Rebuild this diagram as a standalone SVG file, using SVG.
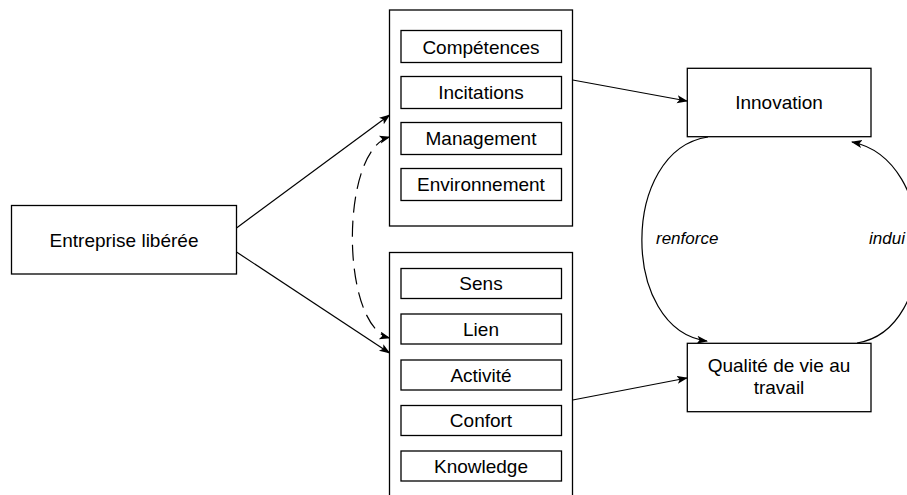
<svg xmlns="http://www.w3.org/2000/svg" width="907" height="495" viewBox="0 0 907 495">
<style>
.box{fill:#fff;stroke:#000;stroke-width:1.3}
.t{font-family:"Liberation Sans",Arial,sans-serif;font-size:19px;fill:#000;text-anchor:middle}
.lbl{font-family:"Liberation Sans",Arial,sans-serif;font-size:17px;font-style:italic;fill:#000}
.edge{fill:none;stroke:#000;stroke-width:1.2}
.dash{stroke-dasharray:16 8}
</style>
<defs>
<marker id="arr" markerUnits="userSpaceOnUse" markerWidth="12" markerHeight="10" refX="10" refY="4" orient="auto">
<path d="M0,0 L11,4 L0,8 L2.5,4 Z" fill="#000" stroke="none"/>
</marker>
<marker id="arrS" markerUnits="userSpaceOnUse" markerWidth="12" markerHeight="10" refX="10" refY="4" orient="auto-start-reverse">
<path d="M0,0 L11,4 L0,8 L2.5,4 Z" fill="#000" stroke="none"/>
</marker>
</defs>
<rect width="907" height="495" fill="#fff"/>
<g id="connectors">
<path class="edge" d="M236.5,228 L389.5,115" marker-end="url(#arr)"/>
<path class="edge" d="M236.5,252 L389.5,353" marker-end="url(#arr)"/>
<path class="edge dash" d="M389.5,137 C340,150 340,325 389.5,338" marker-start="url(#arrS)" marker-end="url(#arrS)"/>
<path class="edge" d="M572.7,80 L687,101" marker-end="url(#arr)"/>
<path class="edge" d="M572.7,400 L687,378" marker-end="url(#arr)"/>
<path class="edge" d="M708,137 C620,150 620,330 707,341" marker-end="url(#arr)"/>
<path class="edge" d="M857,343 C940,330 940,160 852,142" marker-end="url(#arr)"/>
<text class="lbl" x="656" y="244">renforce</text>
<text class="lbl" x="869" y="244">indui</text>
</g>
<g id="entreprise">
<rect class="box" x="11.5" y="205.5" width="225" height="68.5"/>
<text class="t" x="124" y="246.5">Entreprise libérée</text>
</g>
<g id="groupe-haut">
<rect class="box" x="389.5" y="10" width="183" height="216"/>
<g id="competences"><rect class="box" x="401" y="30.5" width="160.5" height="32"/><text class="t" x="481" y="53.5">Compétences</text></g>
<g id="incitations"><rect class="box" x="401" y="76.5" width="160.5" height="32"/><text class="t" x="481" y="99.3">Incitations</text></g>
<g id="management"><rect class="box" x="401" y="122.5" width="160.5" height="32"/><text class="t" x="481" y="145.3">Management</text></g>
<g id="environnement"><rect class="box" x="401" y="168.5" width="160.5" height="32"/><text class="t" x="481" y="191.3">Environnement</text></g>
</g>
<g id="groupe-bas">
<rect class="box" x="389.5" y="252.5" width="183" height="260"/>
<g id="sens"><rect class="box" x="401" y="268.5" width="160.5" height="30"/><text class="t" x="481" y="290.2">Sens</text></g>
<g id="lien"><rect class="box" x="401" y="314" width="160.5" height="30"/><text class="t" x="481" y="335.7">Lien</text></g>
<g id="activite"><rect class="box" x="401" y="360" width="160.5" height="30"/><text class="t" x="481" y="381.7">Activité</text></g>
<g id="confort"><rect class="box" x="401" y="405.5" width="160.5" height="30"/><text class="t" x="481" y="427.3">Confort</text></g>
<g id="knowledge"><rect class="box" x="401" y="451" width="160.5" height="30"/><text class="t" x="481" y="472.7">Knowledge</text></g>
</g>
<g id="innovation">
<rect class="box" x="687.3" y="68.3" width="183.7" height="68.4"/>
<text class="t" x="779" y="109">Innovation</text>
</g>
<g id="qualite">
<rect class="box" x="687.3" y="343.3" width="183.7" height="68.4"/>
<text class="t" x="779" y="372">Qualité de vie au</text>
<text class="t" x="779" y="394">travail</text>
</g>
</svg>
